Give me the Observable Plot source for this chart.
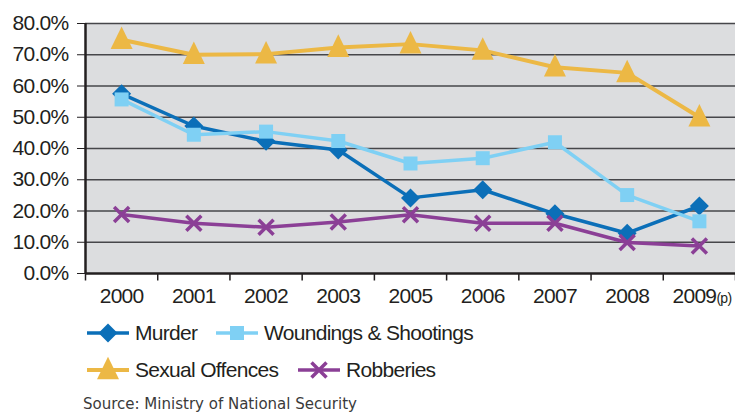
<!DOCTYPE html>
<html><head><meta charset="utf-8">
<script src="https://cdn.jsdelivr.net/npm/d3@7"></script>
<script src="https://cdn.jsdelivr.net/npm/@observablehq/plot@0.6"></script>
<style>
body{margin:0;background:#fff;width:735px;height:415px;position:relative;overflow:hidden}
#chart{position:absolute;left:0;top:0}
#chart text{letter-spacing:-0.7px}
.leg{position:absolute;height:30px;display:flex;align-items:center;white-space:nowrap;
  font-family:"Liberation Sans",Arial,sans-serif;font-size:21px;letter-spacing:-0.7px;color:#231f20}
.leg svg{display:block;margin-right:6px}
.src{position:absolute;left:83px;top:393px;font-family:"DejaVu Sans Condensed","DejaVu Sans",sans-serif;font-size:16.7px;color:#3a3a3a;white-space:nowrap}
</style></head><body>
<div id="chart"></div>
<div id="legend"></div>
<div class="src">Source: Ministry of National Security</div>
<script>
// ---- data ----
const years = ["2000","2001","2002","2003","2005","2006","2007","2008","2009"];
const yearNotes = ["","","","","","","","","(p)"];
const murder    = [57.5, 47.2, 42.3, 39.5, 24.2, 26.8, 19.1, 12.9, 21.6];
const woundings = [55.7, 44.4, 45.4, 42.4, 35.2, 36.9, 42.0, 25.1, 16.7];
const sexual    = [74.8, 70.0, 70.2, 72.3, 73.4, 71.4, 66.0, 64.2, 50.0];
const robberies = [18.9, 16.1, 14.8, 16.5, 18.8, 16.1, 16.1,  9.9,  8.8];
const yTicks = [0, 10, 20, 30, 40, 50, 60, 70, 80];
const seriesNames = ["Murder", "Woundings & Shootings", "Sexual Offences", "Robberies"];

// ---- symbols ----
const diamondSym = {draw(ctx, size){const r=Math.sqrt(size/Math.PI);
  ctx.moveTo(0,-r);ctx.lineTo(r,0);ctx.lineTo(0,r);ctx.lineTo(-r,0);ctx.closePath();}};
const squareSym = {draw(ctx, size){const r=Math.sqrt(size/Math.PI);
  ctx.moveTo(-r,-r);ctx.lineTo(r,-r);ctx.lineTo(r,r);ctx.lineTo(-r,r);ctx.closePath();}};
const triSym = {draw(ctx, size){const r=Math.sqrt(size/Math.PI);
  ctx.moveTo(0,-1.2*r);ctx.lineTo(r,0.85*r);ctx.lineTo(-r,0.85*r);ctx.closePath();}};
const timesSym = {draw(ctx, size){const r=Math.sqrt(size/Math.PI);
  ctx.moveTo(-r,-r);ctx.lineTo(r,r);ctx.moveTo(r,-r);ctx.lineTo(-r,r);}};

const styles = [
  {values: murder,    color:"#0b6fb8", sym: diamondSym, r: 9.5, fill: true,  lw: 3.5},
  {values: woundings, color:"#7fd0f4", sym: squareSym,  r: 7,   fill: true,  lw: 3.5},
  {values: sexual,    color:"#ecb845", sym: triSym,     r: 11,  fill: true,  lw: 4},
  {values: robberies, color:"#8b3f96", sym: timesSym,   r: 7.5, fill: false, lw: 3.5}
];

const table = years.map((y, i) => ({i, year: y, note: yearNotes[i]}));
const boundaries = d3.range(0, years.length + 1).map(d => d - 0.5);

const seriesMarks = styles.flatMap((s, k) => {
  const rows = s.values.map((v, i) => ({i, v, name: seriesNames[k]}));
  return [
    Plot.line(rows, {x: "i", y: "v", stroke: s.color, strokeWidth: s.lw}),
    Plot.dot(rows, {x: "i", y: "v", symbol: s.sym, r: s.r,
      fill: s.fill ? s.color : "none", stroke: s.fill ? "none" : s.color, strokeWidth: s.fill ? 0 : 3.5})
  ];
});

const plot = Plot.plot({
  width: 735, height: 315,
  marginLeft: 85, marginRight: 0, marginTop: 23, marginBottom: 42,
  style: {fontFamily: '"Liberation Sans",Arial,sans-serif',
          fontSize: "21px", color: "#231f20", background: "transparent", overflow: "visible"},
  x: {type: "linear", domain: [-0.5, years.length - 0.5], axis: null},
  y: {domain: [0, 80], ticks: 8, tickFormat: d => d.toFixed(1) + "%", tickSize: 8, tickPadding: 9, label: null},
  marks: [
    Plot.frame({fill: "#dcdddf", stroke: "none"}),
    Plot.ruleY(yTicks.filter(d => d > 0), {stroke: "#46464a", strokeWidth: 1.5}),
    Plot.ruleX(boundaries, {y1: 0, y2: -2.4, stroke: "#231f20", strokeWidth: 1.5}),
    Plot.ruleX([-0.5], {stroke: "#231f20", strokeWidth: 2.5}),
    Plot.ruleY([0], {stroke: "#231f20", strokeWidth: 2.5}),
    ...seriesMarks,
    Plot.text(table.filter(d => !d.note), {x: "i", y: 0, text: "year", dy: 23, fill: "#231f20"}),
    Plot.text(table.filter(d => d.note), {x: "i", y: 0, text: "year", dy: 23, dx: -5, fill: "#231f20"}),
    Plot.text(table.filter(d => d.note), {x: "i", y: 0, text: "note", dy: 25, dx: 17, textAnchor: "start", fontSize: 14, fill: "#231f20"})
  ]
});
document.getElementById("chart").appendChild(plot);

// ---- legend ----
const legendPos = [
  {left: 87, top: 318}, {left: 216, top: 318},
  {left: 87, top: 355}, {left: 298, top: 355}
];
const leg = d3.select("#legend");
styles.forEach((s, k) => {
  const item = leg.append("div").attr("class", "leg")
    .style("left", legendPos[k].left + "px").style("top", legendPos[k].top + "px");
  const svg = item.append("svg").attr("width", 42).attr("height", 30);
  svg.append("line").attr("x1", 0).attr("x2", 42).attr("y1", 15).attr("y2", 15)
    .attr("stroke", s.color).attr("stroke-width", s.lw);
  const p = d3.path();
  s.sym.draw(p, s.r * s.r * Math.PI);
  svg.append("path").attr("d", p.toString()).attr("transform", "translate(21,15)")
    .attr("fill", s.fill ? s.color : "none").attr("stroke", s.fill ? "none" : s.color).attr("stroke-width", 3.5);
  item.append("span").text(seriesNames[k]);
});
</script>
</body></html>
